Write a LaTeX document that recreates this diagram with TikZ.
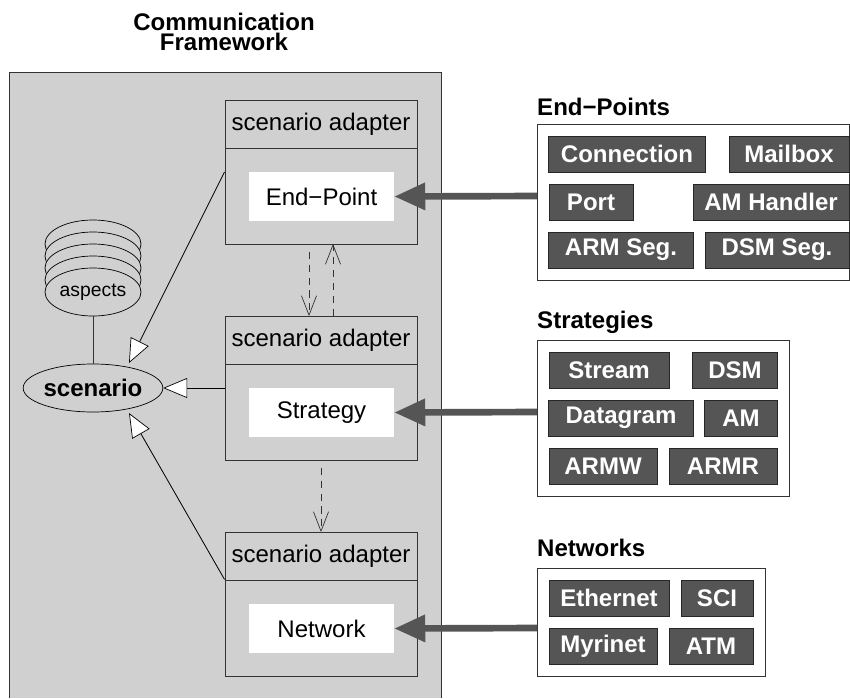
\documentclass[tikz,border=0pt]{standalone}
\usepackage{fontspec}
\setmainfont{Liberation Sans}
\usetikzlibrary{shapes.geometric, arrows.meta, positioning, calc}
\definecolor{framegray}{RGB}{208, 208, 208}
\definecolor{itemgray}{RGB}{85, 85, 85}
\definecolor{linegray}{RGB}{51, 51, 51}
\newcommand{\pxfont}[1]{\fontsize{#1}{#1}\selectfont}
\tikzset{
  adapterbox/.style={draw=linegray, line width=0.8pt, minimum width=5.76cm, minimum height=4.32cm},
  adaptertitle/.style={font=\pxfont{20.5}, inner sep=0pt},
  innerbox/.style={fill=white, font=\pxfont{20.5}, minimum width=4.35cm, minimum height=1.47cm, inner sep=0pt},
  panelbox/.style={draw=linegray, fill=white, line width=0.8pt, inner sep=0pt},
  itembox/.style={draw=black!85, fill=itemgray, text=white, font=\bfseries\pxfont{20.5}, minimum height=1.08cm, inner sep=0pt, line width=0.7pt},
  paneltitle/.style={font=\bfseries\pxfont{20.5}, anchor=west, inner sep=0pt},
  aspectdisk/.style={draw=black, fill=framegray, ellipse, line width=0.6pt, minimum width=2.88cm, minimum height=1.44cm, inner sep=0pt},
  inherit/.style={draw=black, line width=0.7pt, -{Triangle[open, fill=white, length=0.72cm, width=0.6cm, line width=0.6pt]}},
  uses/.style={draw=linegray, dashed, line width=0.6pt, dash pattern=on 6pt off 5pt, -{Straight Barb[length=0.58cm, width=0.45cm, line width=0.6pt, round]}},
  feeds/.style={draw=itemgray, line width=0.2cm, -{Triangle[length=0.93cm, width=0.78cm]}, shorten >=0pt},
}
\begin{document}
\begin{tikzpicture}[x=0.03cm, y=-0.03cm]
  \useasboundingbox (0,0) rectangle (850,698);
  \fill[white] (0,0) rectangle (850,698);

  % Framework
  \path[fill=framegray] (9,72) rectangle (441,698);
  \draw[linegray, line width=0.8pt] (9,698) -- (9,72) -- (441,72) -- (441,698);
  \node[font=\bfseries\pxfont{20.5}, align=center, inner sep=0pt] (title) at (224,32) {Communication\\[-3pt]Framework};

  % Adapters
  \node[adapterbox] (adapterA) at (321,172) {};
  \draw[linegray, line width=0.8pt] (225,148) -- (417,148);
  \node[adaptertitle] (adapterAt) at (321,124) {scenario adapter};
  \node[innerbox] (endpoint) at (321.5,196.5) {End−Point};

  \node[adapterbox] (adapterB) at (321,388) {};
  \draw[linegray, line width=0.8pt] (225,364) -- (417,364);
  \node[adaptertitle] (adapterBt) at (321,340) {scenario adapter};
  \node[innerbox] (strategy) at (321.5,412.5) {Strategy};

  \node[adapterbox] (adapterC) at (321,604) {};
  \draw[linegray, line width=0.8pt] (225,580) -- (417,580);
  \node[adaptertitle] (adapterCt) at (321,556) {scenario adapter};
  \node[innerbox] (network) at (321.5,628.5) {Network};

  % Aspects
  \foreach \y in {244, 256, 268, 280}
    \node[aspectdisk] at (93,\y) {};
  \node[aspectdisk, font=\pxfont{16.5}] (aspects) at (93,292) {aspects};
  \node[draw=black, fill=framegray, ellipse, line width=0.6pt, minimum width=3.6cm, minimum height=1.44cm, inner sep=0pt, font=\bfseries\pxfont{20.5}] (scenario) at (93,388) {scenario};
  \draw[linegray, line width=0.7pt] (aspects) -- (scenario);

  \draw[inherit] (adapterA.west) -- (129,363);
  \draw[inherit] (adapterB.west) -- (scenario.east);
  \draw[inherit] (adapterC.west |- adapterCt.south) ++(0,12) -- (129,413);

  \draw[uses, shorten <=0.22cm] ([xshift=-0.36cm]adapterA.south) -- ([xshift=-0.36cm]adapterB.north);
  \draw[uses] ([xshift=0.36cm]adapterB.north) -- ([xshift=0.36cm]adapterA.south);
  \draw[uses, shorten <=0.22cm] (adapterB.south) -- (adapterC.north);

  % End-Points
  \node[paneltitle] (endtitle) at (537,107) {End−Points};
  \path[panelbox] (537,124) rectangle (849,280);
  \coordinate (endport) at (537,196);
  \node[itembox, minimum width=4.7cm] (connection) at (627,154) {Connection};
  \node[itembox, minimum width=3.6cm] (mailbox) at (789,154) {Mailbox};
  \node[itembox, minimum width=2.52cm] (port) at (591,202) {Port};
  \node[itembox, minimum width=4.68cm] (amhandler) at (771,202) {AM Handler};
  \node[itembox, minimum width=4.33cm] (armseg) at (621,250) {ARM Seg.};
  \node[itembox, minimum width=4.32cm] (dsmseg) at (777,250) {DSM Seg.};

  % Strategies
  \node[paneltitle] (strtitle) at (537,322) {Strategies};
  \path[panelbox] (537,340) rectangle (789,496);
  \coordinate (strport) at (537,412);
  \node[itembox, minimum width=3.6cm] (stream) at (609,370) {Stream};
  \node[itembox, minimum width=2.54cm] (dsm) at (735,370) {DSM};
  \node[itembox, minimum width=4.33cm] (datagram) at (621,418) {Datagram};
  \node[itembox, minimum width=2.18cm] (am) at (741,418) {AM};
  \node[itembox, minimum width=3.24cm] (armw) at (603,466) {ARMW};
  \node[itembox, minimum width=3.24cm] (armr) at (723,466) {ARMR};

  % Networks
  \node[paneltitle] (nettitle) at (537,548) {Networks};
  \path[panelbox] (537,568) rectangle (765.5,676);
  \coordinate (netport) at (537,628);
  \node[itembox, minimum width=3.6cm] (ethernet) at (609,598) {Ethernet};
  \node[itembox, minimum width=2.16cm] (sci) at (717,598) {SCI};
  \node[itembox, minimum width=3.24cm] (myrinet) at (603,646) {Myrinet};
  \node[itembox, minimum width=2.52cm] (atm) at (711,646) {ATM};

  \draw[feeds] (endport) -- (endpoint.east);
  \draw[feeds] (strport) -- (strategy.east);
  \draw[feeds] (netport) -- (network.east);
\end{tikzpicture}
\end{document}
